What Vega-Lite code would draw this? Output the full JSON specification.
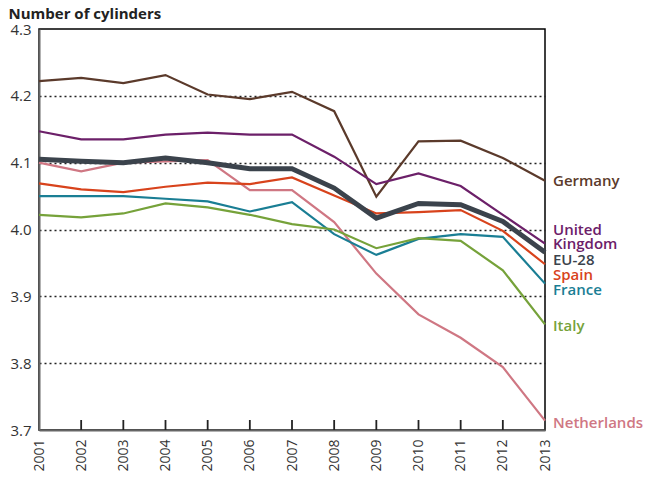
{
  "$schema": "https://vega.github.io/schema/vega-lite/v6.json",
  "width": 506,
  "height": 401,
  "autosize": "none",
  "padding": {"left": 39, "top": 29, "right": 101, "bottom": 48},
  "background": "white",
  "config": {
    "view": {"stroke": "black", "strokeWidth": 1.5},
    "font": "Open Sans"
  },
  "datasets": {
    "series": [
      {"country": "Germany", "year": 2001, "value": 4.222},
      {"country": "Germany", "year": 2002, "value": 4.227},
      {"country": "Germany", "year": 2003, "value": 4.219},
      {"country": "Germany", "year": 2004, "value": 4.231},
      {"country": "Germany", "year": 2005, "value": 4.202},
      {"country": "Germany", "year": 2006, "value": 4.195},
      {"country": "Germany", "year": 2007, "value": 4.206},
      {"country": "Germany", "year": 2008, "value": 4.177},
      {"country": "Germany", "year": 2009, "value": 4.049},
      {"country": "Germany", "year": 2010, "value": 4.132},
      {"country": "Germany", "year": 2011, "value": 4.133},
      {"country": "Germany", "year": 2012, "value": 4.107},
      {"country": "Germany", "year": 2013, "value": 4.073},
      {"country": "United Kingdom", "year": 2001, "value": 4.147},
      {"country": "United Kingdom", "year": 2002, "value": 4.135},
      {"country": "United Kingdom", "year": 2003, "value": 4.135},
      {"country": "United Kingdom", "year": 2004, "value": 4.142},
      {"country": "United Kingdom", "year": 2005, "value": 4.145},
      {"country": "United Kingdom", "year": 2006, "value": 4.142},
      {"country": "United Kingdom", "year": 2007, "value": 4.142},
      {"country": "United Kingdom", "year": 2008, "value": 4.109},
      {"country": "United Kingdom", "year": 2009, "value": 4.068},
      {"country": "United Kingdom", "year": 2010, "value": 4.084},
      {"country": "United Kingdom", "year": 2011, "value": 4.065},
      {"country": "United Kingdom", "year": 2012, "value": 4.022},
      {"country": "United Kingdom", "year": 2013, "value": 3.979},
      {"country": "Netherlands", "year": 2001, "value": 4.100},
      {"country": "Netherlands", "year": 2002, "value": 4.087},
      {"country": "Netherlands", "year": 2003, "value": 4.100},
      {"country": "Netherlands", "year": 2004, "value": 4.102},
      {"country": "Netherlands", "year": 2005, "value": 4.104},
      {"country": "Netherlands", "year": 2006, "value": 4.059},
      {"country": "Netherlands", "year": 2007, "value": 4.059},
      {"country": "Netherlands", "year": 2008, "value": 4.011},
      {"country": "Netherlands", "year": 2009, "value": 3.934},
      {"country": "Netherlands", "year": 2010, "value": 3.873},
      {"country": "Netherlands", "year": 2011, "value": 3.838},
      {"country": "Netherlands", "year": 2012, "value": 3.794},
      {"country": "Netherlands", "year": 2013, "value": 3.714},
      {"country": "Spain", "year": 2001, "value": 4.069},
      {"country": "Spain", "year": 2002, "value": 4.060},
      {"country": "Spain", "year": 2003, "value": 4.056},
      {"country": "Spain", "year": 2004, "value": 4.064},
      {"country": "Spain", "year": 2005, "value": 4.070},
      {"country": "Spain", "year": 2006, "value": 4.068},
      {"country": "Spain", "year": 2007, "value": 4.078},
      {"country": "Spain", "year": 2008, "value": 4.051},
      {"country": "Spain", "year": 2009, "value": 4.024},
      {"country": "Spain", "year": 2010, "value": 4.026},
      {"country": "Spain", "year": 2011, "value": 4.029},
      {"country": "Spain", "year": 2012, "value": 3.998},
      {"country": "Spain", "year": 2013, "value": 3.948},
      {"country": "France", "year": 2001, "value": 4.050},
      {"country": "France", "year": 2002, "value": 4.050},
      {"country": "France", "year": 2003, "value": 4.050},
      {"country": "France", "year": 2004, "value": 4.046},
      {"country": "France", "year": 2005, "value": 4.042},
      {"country": "France", "year": 2006, "value": 4.027},
      {"country": "France", "year": 2007, "value": 4.041},
      {"country": "France", "year": 2008, "value": 3.993},
      {"country": "France", "year": 2009, "value": 3.962},
      {"country": "France", "year": 2010, "value": 3.986},
      {"country": "France", "year": 2011, "value": 3.993},
      {"country": "France", "year": 2012, "value": 3.989},
      {"country": "France", "year": 2013, "value": 3.919},
      {"country": "Italy", "year": 2001, "value": 4.022},
      {"country": "Italy", "year": 2002, "value": 4.018},
      {"country": "Italy", "year": 2003, "value": 4.024},
      {"country": "Italy", "year": 2004, "value": 4.039},
      {"country": "Italy", "year": 2005, "value": 4.033},
      {"country": "Italy", "year": 2006, "value": 4.022},
      {"country": "Italy", "year": 2007, "value": 4.008},
      {"country": "Italy", "year": 2008, "value": 4.000},
      {"country": "Italy", "year": 2009, "value": 3.972},
      {"country": "Italy", "year": 2010, "value": 3.987},
      {"country": "Italy", "year": 2011, "value": 3.983},
      {"country": "Italy", "year": 2012, "value": 3.939},
      {"country": "Italy", "year": 2013, "value": 3.858}
    ],
    "eu": [
      {"country": "EU-28", "year": 2001, "value": 4.105},
      {"country": "EU-28", "year": 2002, "value": 4.102},
      {"country": "EU-28", "year": 2003, "value": 4.100},
      {"country": "EU-28", "year": 2004, "value": 4.107},
      {"country": "EU-28", "year": 2005, "value": 4.100},
      {"country": "EU-28", "year": 2006, "value": 4.091},
      {"country": "EU-28", "year": 2007, "value": 4.091},
      {"country": "EU-28", "year": 2008, "value": 4.062},
      {"country": "EU-28", "year": 2009, "value": 4.017},
      {"country": "EU-28", "year": 2010, "value": 4.039},
      {"country": "EU-28", "year": 2011, "value": 4.037},
      {"country": "EU-28", "year": 2012, "value": 4.012},
      {"country": "EU-28", "year": 2013, "value": 3.966}
    ],
    "yearTicks": [
      {"year": 2002, "mid": 3.7075}, {"year": 2003, "mid": 3.7075},
      {"year": 2004, "mid": 3.7075}, {"year": 2005, "mid": 3.7075},
      {"year": 2006, "mid": 3.7075}, {"year": 2007, "mid": 3.7075},
      {"year": 2008, "mid": 3.7075}, {"year": 2009, "mid": 3.7075},
      {"year": 2010, "mid": 3.7075}, {"year": 2011, "mid": 3.7075},
      {"year": 2012, "mid": 3.7075}
    ],
    "labels": [
      {"country": "Germany", "label": "Germany", "year": 2013, "pos": 4.072},
      {"country": "United Kingdom", "label": "United\nKingdom", "year": 2013, "pos": 3.999},
      {"country": "EU-28", "label": "EU-28", "year": 2013, "pos": 3.955},
      {"country": "Spain", "label": "Spain", "year": 2013, "pos": 3.932},
      {"country": "France", "label": "France", "year": 2013, "pos": 3.909},
      {"country": "Italy", "label": "Italy", "year": 2013, "pos": 3.855},
      {"country": "Netherlands", "label": "Netherlands", "year": 2013, "pos": 3.711}
    ]
  },
  "layer": [
    {
      "data": {"name": "series"},
      "mark": {"type": "line", "strokeWidth": 2.2, "clip": false},
      "encoding": {
        "x": {
          "field": "year", "type": "quantitative",
          "scale": {"domain": [2001, 2013], "nice": false, "zero": false},
          "axis": {
            "values": [2001, 2002, 2003, 2004, 2005, 2006, 2007, 2008, 2009, 2010, 2011, 2012, 2013],
            "format": "d", "labelAngle": -90, "labelAlign": "right", "labelBaseline": "middle",
            "labelFontSize": 14, "labelColor": "#333333", "labelPadding": 9,
            "ticks": false,
            "domainColor": "#666666", "domainWidth": 2, "grid": false, "title": null
          }
        },
        "y": {
          "field": "value", "type": "quantitative",
          "scale": {"domain": [3.7, 4.3], "nice": false, "zero": false},
          "axis": {
            "values": [3.7, 3.8, 3.9, 4.0, 4.1, 4.2, 4.3], "format": ".1f",
            "labelFontSize": 15, "labelColor": "#333333", "labelPadding": 8,
            "ticks": false, "domainColor": "#666666", "domainWidth": 2,
            "grid": true, "gridColor": "#222222", "gridDash": [2, 3], "gridWidth": 1.3,
            "gridOpacity": {"condition": {"test": "datum.value <= 3.75 || datum.value >= 4.25", "value": 0}, "value": 1},
            "title": "Number of cylinders", "titleAngle": 0, "titleAlign": "left", "titleBaseline": "middle",
            "titleX": -31, "titleY": -16, "titleFontSize": 15, "titleFontWeight": "bold", "titleColor": "#222222"
          }
        },
        "color": {
          "field": "country", "type": "nominal", "legend": null,
          "scale": {
            "domain": ["Germany", "United Kingdom", "EU-28", "Spain", "France", "Italy", "Netherlands"],
            "range": ["#5b3a2b", "#6c2069", "#3b434c", "#d8431c", "#1a7e94", "#76a23a", "#cf7783"]
          }
        }
      }
    },
    {
      "data": {"name": "eu"},
      "mark": {"type": "line", "strokeWidth": 5, "clip": false, "color": "#3b434c"},
      "encoding": {
        "x": {"field": "year", "type": "quantitative"},
        "y": {"field": "value", "type": "quantitative"}
      }
    },
    {
      "data": {"name": "yearTicks"},
      "mark": {"type": "tick", "orient": "vertical", "color": "#222222", "size": 10, "thickness": 1.8, "opacity": 1},
      "encoding": {
        "x": {"field": "year", "type": "quantitative"},
        "y": {"field": "mid", "type": "quantitative"}
      }
    },
    {
      "data": {"name": "labels"},
      "mark": {"type": "text", "align": "left", "baseline": "middle", "dx": 8, "fontSize": 15, "fontWeight": 600, "lineBreak": "\n", "lineHeight": 14, "clip": false},
      "encoding": {
        "x": {"field": "year", "type": "quantitative"},
        "y": {"field": "pos", "type": "quantitative"},
        "text": {"field": "label"},
        "color": {"field": "country", "type": "nominal", "legend": null}
      }
    }
  ]
}
